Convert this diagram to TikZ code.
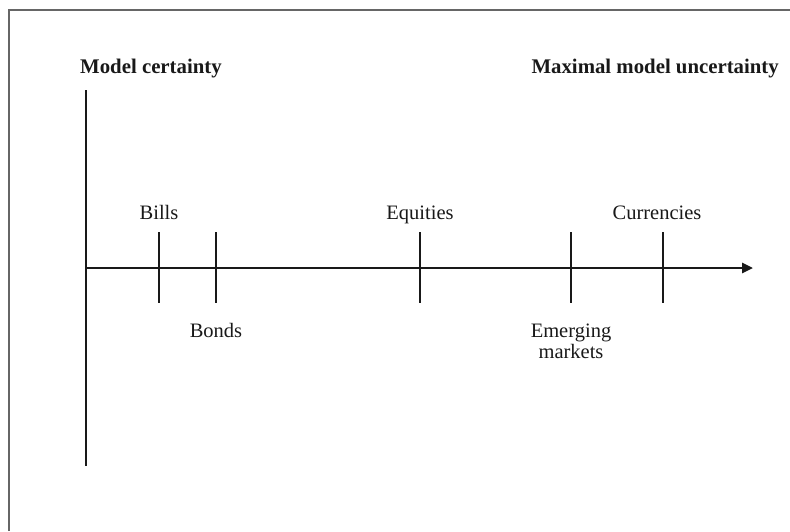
\documentclass[tikz,border=0pt]{standalone}
\usepackage{fontspec}
\setmainfont{Liberation Serif}
\usetikzlibrary{arrows.meta}
\begin{document}
\begin{tikzpicture}[x=1pt,y=-1pt,
  axisline/.style={line width=2.6pt,draw=black!90},
  tickline/.style={line width=2.2pt,draw=black!90},
  lbl/.style={inner sep=0pt,anchor=base,font=\fontsize{20.5}{21}\selectfont,text=black!90},
  hdr/.style={inner sep=0pt,anchor=base,font=\fontsize{20.8}{21}\selectfont\bfseries,text=black!90},
  framel/.style={line width=1.4pt,draw=black!60}]
\useasboundingbox (0,0) rectangle (790,531);
% frame (top and left edges)
\coordinate (f1) at (9,531);
\coordinate (f2) at (9,10);
\coordinate (f3) at (790,10);
\draw[framel] (f1) -- (f2) -- (f3);
% axes
\coordinate (ytop) at (86,90);
\coordinate (ybot) at (86,466);
\coordinate (o) at (86,268);
\coordinate (xend) at (753,268);
\draw[axisline] (ytop) -- (ybot);
\draw[axisline,-{Triangle[length=11pt,width=10pt]}] (o) -- (xend);
% ticks
\foreach \n/\x in {bills/159,bonds/216,equities/420,emerging/571,currencies/663}{
  \coordinate (\n t) at (\x,232);
  \coordinate (\n b) at (\x,303);
  \draw[tickline] (\n t) -- (\n b);
}
% headers
\node[hdr,anchor=base west] (mc) at (80,73) {Model certainty};
\node[hdr,anchor=base east] (mmu) at (779,73) {Maximal model uncertainty};
% labels
\node[lbl] (lbills) at (159,219) {Bills};
\node[lbl] (lbonds) at (216,337) {Bonds};
\node[lbl] (lequities) at (420,219) {Equities};
\node[lbl] (lcurrencies) at (657,219) {Currencies};
\node[lbl,align=center,anchor=base] (lemerging) at (571,358) {Emerging\\markets};
\end{tikzpicture}
\end{document}
